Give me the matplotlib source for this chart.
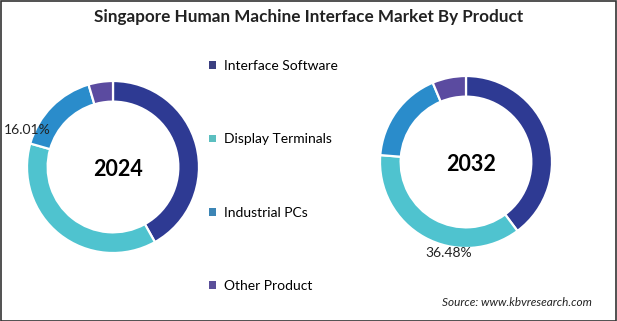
import numpy as np
import matplotlib
matplotlib.use("Agg")
import matplotlib.pyplot as plt
from matplotlib.patches import Rectangle, Patch

# data (shares in %)
products = ["Interface Software", "Display Terminals", "Industrial PCs", "Other Product"]
share_2024 = [41.9, 37.5, 16.01, 4.59]
share_2032 = [39.8, 36.48, 17.4, 6.32]
years = ["2024", "2032"]

ring_colors = ["#2E3A93", "#4FC3CF", "#2A8CCB", "#5B4BA0"]
legend_colors = ["#3B3F80", "#5BBFC0", "#3C85B5", "#5A4F99"]

plt.rcParams["font.family"] = ["Lato", "DejaVu Sans"]

W, H = 617, 321
fig = plt.figure(figsize=(W / 100, H / 100), dpi=100)

def px_axes(cx, cy, r):
    # square axes centred at pixel (cx, cy) from the top-left corner
    return fig.add_axes([(cx - r) / W, (H - cy - r) / H, 2 * r / W, 2 * r / H])

def donut(ax, vals, year):
    ax.pie(vals, colors=ring_colors, startangle=90, counterclock=False,
           wedgeprops=dict(width=0.24, edgecolor="white", linewidth=1.6))
    ax.set_xlim(-1, 1)
    ax.set_ylim(-1, 1)
    ax.set_aspect("equal")
    ax.axis("off")
    ax.text(0.06, -0.03, year, ha="center", va="center", fontsize=15.5,
            fontweight="bold", color="black")

ax1 = px_axes(113, 167, 86)
donut(ax1, share_2024, years[0])
ax1.text(-1.0, 0.43, f"{share_2024[2]:.2f}%", ha="center", va="center",
         fontsize=10, color="#222222", clip_on=False)

ax2 = px_axes(466, 162, 86)
donut(ax2, share_2032, years[1])
ax2.text(-0.2, -1.06, f"{share_2032[1]:.2f}%", ha="center", va="center",
         fontsize=10, color="#222222", clip_on=False)

handles = [Patch(facecolor=c, edgecolor="none") for c in legend_colors]
fig.legend(handles, products, loc="upper left", bbox_to_anchor=(209 / W, 1 - 60 / H),
           frameon=False, fontsize=10, labelspacing=4.42, handlelength=0.5,
           handleheight=0.5, handletextpad=0.55, borderpad=0, borderaxespad=0)

fig.text(0.5, 1 - 17 / H, "Singapore Human Machine Interface Market By Product",
         ha="center", va="center", fontsize=12.3, fontweight="bold", color="#222222")
fig.text(592 / W, 1 - 302 / H, "Source: www.kbvresearch.com", ha="right",
         va="center", fontsize=8.5, style="italic", color="#222222")

# thin frame round the image
fig.add_artist(Rectangle((0.5 / W, 0.5 / H), 1 - 1.5 / W, 1 - 1.5 / H,
                         transform=fig.transFigure, fill=False,
                         edgecolor="#333333", linewidth=1.2))

fig.savefig("out.png", dpi=100)
